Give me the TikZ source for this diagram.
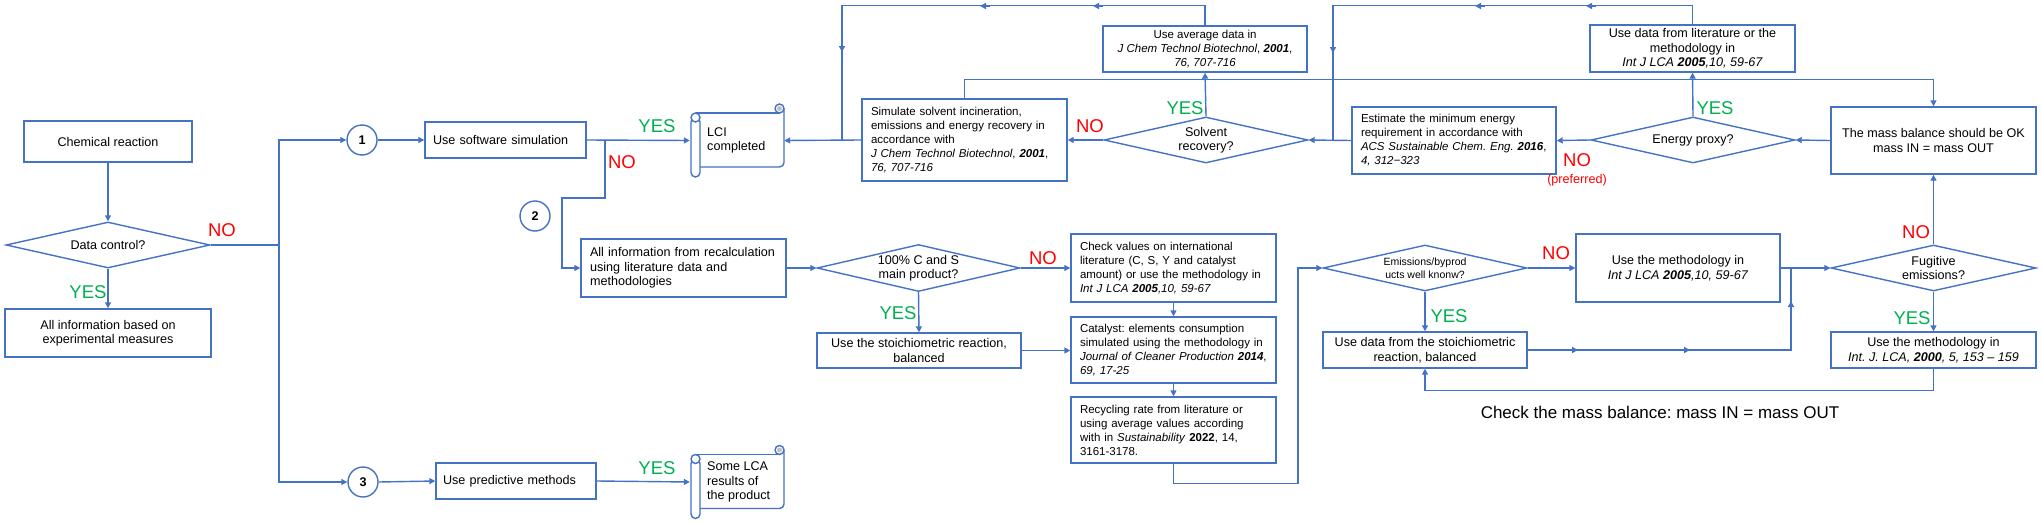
\documentclass[tikz,border=0pt]{standalone}
\usepackage{fontspec}
\setmainfont{Liberation Sans}
\usetikzlibrary{shapes.geometric,arrows.meta}
\frenchspacing
\definecolor{lb}{RGB}{68,114,196}
\definecolor{yesc}{RGB}{0,176,80}
\definecolor{noc}{RGB}{255,0,0}
\newcommand\myN{\fontsize{12.6}{14.5}\selectfont}
\newcommand\myS{\fontsize{11.5}{14}\selectfont}
\newcommand\myE{\fontsize{10.5}{12.5}\selectfont}
\newcommand\myYN{\fontsize{18.5}{20}\selectfont}
\newcommand\myB{\fontsize{12.6}{14}\selectfont\bfseries}
\newcommand\jl[1]{\makebox[\hsize][s]{#1}}
\newcommand\myscroll[1]{%
\begin{scope}[shift={(#1)}]
 \fill[white] (-41.5,-27.5) rectangle (47,26.5);
 \draw[ln] (-41.5,-27.5) -- (42.5,-27.5);
 \draw[ln,rounded corners=4.5pt] (47,-32) -- (47,26.5) -- (-37,26.5);
 \draw[ln,fill=white,rounded corners=4.5pt] (-46,-23) rectangle (-37,36.5);
 \draw[ln,fill=white] (-41.5,-23) circle[radius=4.5pt];
 \draw[ln,fill=white] (42.5,-32) circle[radius=4.5pt];
 \fill[black!25] (42.5,-32) circle[radius=2.5pt];
\end{scope}}
\tikzset{
 ln/.style={draw=lb, line width=1.4pt},
 ar/.style={ln, -{Triangle[length=6pt,width=6pt]}},
 bx/.style={draw=lb, line width=1.4pt, fill=white, inner sep=0pt, align=center, font=\myN},
 jbx/.style={bx, text width=187pt, inner xsep=9pt, align=left, font=\myS},
 dm/.style={diamond, draw=lb, line width=1.4pt, fill=white, inner sep=0pt, aspect=4.4, minimum width=204pt, minimum height=46pt},
 dtx/.style={inner sep=0pt, align=center, font=\myN},
 yes/.style={text=yesc, font=\myYN, inner sep=0pt},
 no/.style={text=noc, font=\myYN, inner sep=0pt},
 circ/.style={circle, draw=lb, line width=1.4pt, minimum size=30pt, inner sep=0pt, font=\myB},
 ghost/.style={inner sep=0pt, minimum width=94pt, minimum height=73pt}
}
\begin{document}
\begin{tikzpicture}[x=1pt,y=-1pt]
\useasboundingbox (0,0) rectangle (2042,522);
% left part
\node[bx, minimum width=168pt, minimum height=41pt] (chem) at (108,141.5) {Chemical reaction};
\node[dm] (dc) at (108,245) {};
\node[dtx] (dct) at (dc) {Data control?};
\node[bx, minimum width=206pt, minimum height=48pt] (exp) at (108,333) {All information based on\\experimental measures};
\node[circ] (c1) at (362,140) {1};
\node[circ] (c2) at (535,216) {2};
\node[circ] (c3) at (363,482) {3};
\node[bx, minimum width=161pt, minimum height=36pt, text width=145pt, align=left] (soft) at (505.5,140) {Use software simulation};
\node[bx, minimum width=160pt, minimum height=36pt, text width=146pt, align=left] (pred) at (516,481) {Use predictive methods};
% scrolls
\node[ghost] (lci) at (737,140.5) {};
\myscroll{737,140.5}
\node[font=\myN, align=left, anchor=west, inner sep=0pt] (lcit) at (707,140.5) {LCI\\completed};
\node[ghost] (lca) at (737,482) {};
\myscroll{737,482}
\node[font=\myN, align=left, anchor=west, inner sep=0pt] (lcat) at (707,482) {Some LCA\\results of\\the product};
% middle
\node[jbx, minimum height=58pt, font=\myN] (allinfo) at (683.5,268) {\jl{All information from recalculation}\\\jl{using literature data and}\\methodologies};
\node[dm, minimum width=203pt, minimum height=47pt] (cs) at (918.5,268) {};
\node[dtx] (cst) at (cs) {100\% C and S\\main product?};
\node[bx, minimum width=204pt, minimum height=35pt] (sto) at (919,350.5) {Use the stoichiometric reaction,\\balanced};
\node[jbx, minimum height=68pt] (chk) at (1173.5,268) {\jl{Check values on international}\\\jl{literature (C, S, Y and catalyst}\\\jl{amount) or use the methodology in}\\\textit{Int J LCA \textbf{2005},10, 59-67}};
\node[bx, minimum width=205pt, minimum height=66pt, text width=187pt, align=left, font=\myS] (cat) at (1173.5,350) {Catalyst: elements consumption\\simulated using the methodology in\\\textit{Journal of Cleaner Production} \textbf{\textit{2014}},\\\textit{69, 17-25}};
\node[bx, minimum width=205pt, minimum height=66pt, text width=187pt, align=left, font=\myS] (rec) at (1173.5,430) {Recycling rate from literature or\\using average values according\\with in \textit{Sustainability} \textbf{2022}, 14,\\3161-3178.};
% top row
\node[jbx, minimum height=82pt] (sim) at (964.5,140) {\jl{Simulate solvent incineration,}\\\jl{emissions and energy recovery in}\\accordance with\\\jl{\textit{J Chem Technol Biotechnol}, \textbf{\textit{2001}},}\\\textit{76, 707-716}};
\node[bx, minimum width=204pt, minimum height=46pt, font=\myS] (avg) at (1205,49) {Use average data in\\\textit{J Chem Technol Biotechnol}, \textbf{\textit{2001}},\\\textit{76, 707-716}};
\node[dm] (sol) at (1206,140) {};
\node[dtx] (solt) at (sol) {Solvent\\recovery?};
\node[jbx, minimum width=204pt, text width=186pt, minimum height=67pt] (est) at (1454,140.5) {\jl{Estimate the minimum energy}\\\jl{requirement in accordance with}\\\jl{\textit{ACS Sustainable Chem. Eng.} \textbf{\textit{2016}},}\\\textit{4, 312−323}};
\node[bx, minimum width=205pt, minimum height=47pt] (lit) at (1692.5,48.5) {Use data from literature or the\\methodology in\\\textit{Int J LCA \textbf{2005},10, 59-67}};
\node[dm] (en) at (1693,140) {};
\node[dtx] (ent) at (en) {Energy proxy?};
\node[bx, minimum width=205pt, minimum height=67pt] (mb) at (1933.5,140.5) {The mass balance should be OK\\mass IN = mass OUT};
% right middle
\node[dm] (em) at (1425,268) {};
\node[dtx, font=\myE] (emt) at (em) {Emissions/byprod\\ucts well knonw?};
\node[bx, minimum width=204pt, minimum height=68pt] (meth) at (1678,268) {Use the methodology in\\\textit{Int J LCA \textbf{2005},10, 59-67}};
\node[dm, minimum width=205pt] (fug) at (1933.5,268) {};
\node[dtx] (fugt) at (fug) {Fugitive\\emissions?};
\node[bx, minimum width=204pt, minimum height=36pt] (uds) at (1425,350) {Use data from the stoichiometric\\reaction, balanced};
\node[bx, minimum width=205pt, minimum height=36pt] (ij) at (1933.5,350) {Use the methodology in\\{\itshape Int. J. LCA, \textbf{2000}, 5, 153 – 159}};
\node[font=\fontsize{17}{19}\selectfont, inner sep=0pt] (chkmb) at (1660,412) {Check the mass balance: mass IN = mass OUT};
% coordinates
\coordinate (t) at (279,245);
\coordinate (j1) at (842,140);
\coordinate (j2) at (1333,140);
\coordinate (j3) at (1791,268);
\coordinate (j4) at (605,140);
% connectors left
\draw[ar] (chem.south) -- (dc.north);
\draw[ar] (dc.south) -- (exp.north);
\draw[ln] (dc.east) -- (t);
\draw[ar] (t) |- (c1.west);
\draw[ar] (t) |- (c3.west);
\draw[ar] (c1.east) -- (soft.west);
\draw[ar] (c3.east) -- (pred.west);
\draw[ar] (soft.east) -- (lci.west);
\draw[ar] (pred.east) -- (lca.west);
\draw[ar] (j4) |- (562,198) |- (allinfo.west);
% connectors top
\draw[ar] (sim.west) -- (lci.east);
\draw[ln] (avg.north) -- ++(0,-20) -| (j1);
\draw[ln] (lit.north) -- ++(0,-19) -| (j2);
\draw[ar] (sol.west) -- (sim.east);
\draw[ar] (sol.north) -- (avg.south);
\draw[ar] (est.west) -- (sol.east);
\draw[ar] (en.west) -- (est.east);
\draw[ar] (en.north) -- (lit.south);
\draw[ar] (mb.west) -- (en.east);
\draw[ar] (sim.north) -- ++(0,-19) -| (mb.north);
% arrow marks on long lines
\draw[ar] (990,6) -- (980,6);
\draw[ar] (1103,6) -- (1093,6);
\draw[ar] (1485,6) -- (1475,6);
\draw[ar] (1596,6) -- (1586,6);
\draw[ar] (842,42) -- (842,52);
\draw[ar] (1333,43) -- (1333,53);
% connectors middle
\draw[ar] (allinfo.east) -- (cs.west);
\draw[ar] (cs.south) -- (sto.north);
\draw[ar] (cs.east) -- (chk.west);
\draw[ar] (chk.south) -- (cat.north);
\draw[ar] (sto.east) -- (sto.east -| cat.west);
\draw[ar] (cat.south) -- (rec.north);
\draw[ar] (rec.south) -- ++(0,20) -| (1298,300) |- (em.west);
\draw[ar] (em.east) -- (meth.west);
\draw[ar] (em.south) -- (uds.north);
\draw[ar] (meth.east) -- (fug.west);
\draw[ln] (uds.east) -| (j3);
\draw[ar] (1568,350) -- (1578,350);
\draw[ar] (1680,350) -- (1690,350);
\draw[ar] (1791,311) -- (1791,301);
\draw[ar] (fug.north) -- (mb.south);
\draw[ar] (fug.south) -- (ij.north);
\draw[ar] (ij.south) -- ++(0,22) -| (uds.south);
% labels
\node[yes] (y1) at (88,292) {YES};
\node[no] (n1) at (222,230) {NO};
\node[yes] (y2) at (657,126) {YES};
\node[no] (n2) at (622,162) {NO};
\node[yes] (y3) at (657,468) {YES};
\node[no] (n3) at (1090,126) {NO};
\node[yes] (y4) at (1185,108) {YES};
\node[no] (n4) at (1577,160) {NO};
\node[text=noc, font=\myN, inner sep=0pt] (pref) at (1577,180) {(preferred)};
\node[yes] (y5) at (1715,108) {YES};
\node[yes] (y6) at (898,313) {YES};
\node[no] (n6) at (1043,258) {NO};
\node[no] (n7) at (1556,253) {NO};
\node[yes] (y7) at (1449,316) {YES};
\node[no] (n8) at (1916,232) {NO};
\node[yes] (y8) at (1912,318) {YES};
\end{tikzpicture}
\end{document}
